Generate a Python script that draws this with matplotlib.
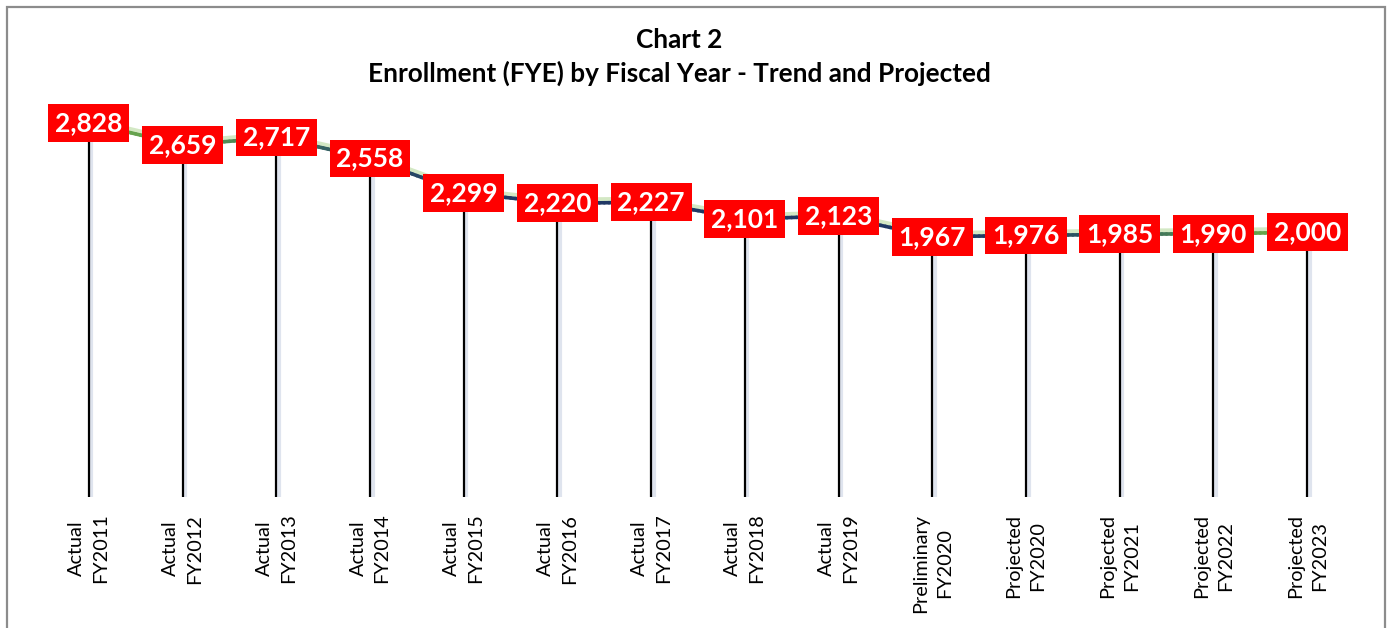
import matplotlib
matplotlib.use("Agg")
import matplotlib.pyplot as plt
import numpy as np
from matplotlib.collections import LineCollection
from matplotlib.colors import LinearSegmentedColormap
from matplotlib.patches import Rectangle
import matplotlib.transforms as mtransforms

categories = ["Actual\nFY2011", "Actual\nFY2012", "Actual\nFY2013", "Actual\nFY2014",
              "Actual\nFY2015", "Actual\nFY2016", "Actual\nFY2017", "Actual\nFY2018",
              "Actual\nFY2019", "Preliminary\nFY2020", "Projected\nFY2020",
              "Projected\nFY2021", "Projected\nFY2022", "Projected\nFY2023"]
enrollment = [2828, 2659, 2717, 2558, 2299, 2220, 2227, 2101, 2123, 1967, 1976, 1985, 1990, 2000]
value_labels = [f"{v:,}" for v in enrollment]

W, H = 1390, 628
fig = plt.figure(figsize=(W / 100, H / 100), dpi=100)
fig.patch.set_facecolor("white")

ax = fig.add_axes([42 / W, 1 - 497 / H, (1354 - 42) / W, (497 - 100) / H])
ax.set_xlim(-0.5, len(categories) - 0.5)
ax.set_ylim(0, 3000)
for s in ax.spines.values():
    s.set_visible(False)
ax.set_yticks([])

x = np.arange(len(categories))
y = np.array(enrollment, dtype=float)

# drop lines with soft shadow
shadow_tr = mtransforms.offset_copy(ax.transData, fig=fig, x=2.5, y=0, units="dots")
ax.vlines(x, 0, y, colors="#dfe4ee", linewidth=3.0, transform=shadow_tr, zorder=1)
ax.vlines(x, 0, y, colors="black", linewidth=1.6, zorder=2)

# light green glow above the line
glow_tr = mtransforms.offset_copy(ax.transData, fig=fig, x=0, y=2.5, units="dots")
ax.plot(x, y, color="#d3e8c4", linewidth=4.5, transform=glow_tr, zorder=3,
        solid_capstyle="round", solid_joinstyle="round")

# gradient line: green -> navy -> green
cmap = LinearSegmentedColormap.from_list(
    "g", [(0.0, "#6fae4a"), (0.12, "#4f8a56"), (0.22, "#2d5366"), (0.32, "#1f3864"),
          (0.72, "#1f3864"), (0.84, "#2f5a62"), (0.93, "#5a9a4e"), (1.0, "#70ad47")])
segs, cols = [], []
n = 20
for i in range(len(x) - 1):
    xs = np.linspace(x[i], x[i + 1], n + 1)
    ys = np.linspace(y[i], y[i + 1], n + 1)
    for k in range(n):
        segs.append([(xs[k], ys[k]), (xs[k + 1], ys[k + 1])])
        cols.append(cmap((xs[k] + xs[k + 1]) / 2 / (len(x) - 1)))
lc = LineCollection(segs, colors=cols, linewidths=2.6, zorder=4, capstyle="round")
ax.add_collection(lc)

# value labels
for xi, yi, lab in zip(x, y, value_labels):
    ax.text(xi, yi, lab, ha="center", va="center", fontsize=19, fontweight="bold",
            family="Lato", color="white", zorder=6,
            bbox=dict(boxstyle="square,pad=0.26", facecolor="#ff0000", edgecolor="none"))

ax.set_xticks(x)
ax.set_xticklabels(categories, rotation=90, fontsize=14.3, family="Lato",
                   va="top", ha="center", multialignment="center", linespacing=1.5)
ax.tick_params(axis="x", length=0, pad=12)

fig.text(679 / W, 1 - 40 / H, "Chart 2", ha="center", va="center",
         fontsize=18.8, fontweight="bold", family="Lato")
fig.text(679 / W, 1 - 73 / H, "Enrollment (FYE) by Fiscal Year - Trend and Projected",
         ha="center", va="center", fontsize=18.8, fontweight="bold", family="Lato")

border = Rectangle((7 / W, -0.05), (1385 - 7) / W, 1 - 7 / H + 0.05, transform=fig.transFigure,
                   fill=False, edgecolor="#8c8c8c", linewidth=1.6, zorder=10)
fig.patches.append(border)

fig.savefig("out.png", dpi=100, facecolor="white")
